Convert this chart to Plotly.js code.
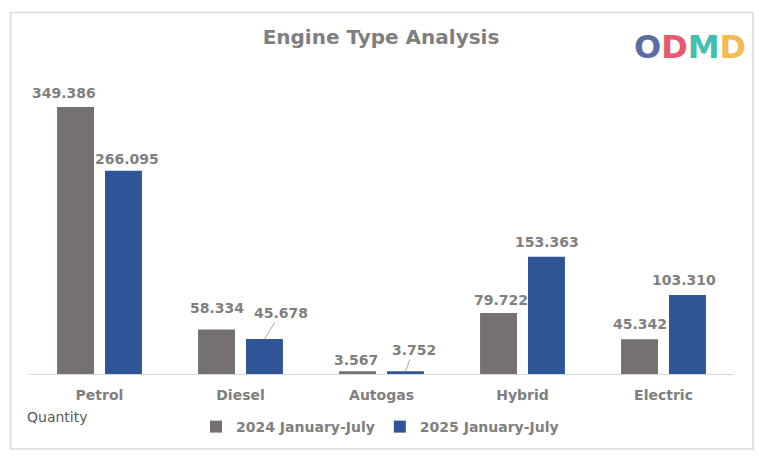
<!DOCTYPE html>
<html>
<head>
<meta charset="utf-8">
<script src="https://cdn.plot.ly/plotly-3.0.1.min.js"></script>
<style>html,body{margin:0;padding:0;background:#fff;}#chart{width:759px;height:460px;}</style>
</head>
<body>
<div id="chart"></div>
<script>
// ---- data ----
var categories = ["Petrol", "Diesel", "Autogas", "Hybrid", "Electric"];
var series2024 = [349.386, 58.334, 3.567, 79.722, 45.342];
var series2025 = [266.095, 45.678, 3.752, 153.363, 103.310];
var seriesNames = ["2024 January-July", "2025 January-July"];
var chartTitle = "Engine Type Analysis";
var axisNote = "Quantity";

// ---- style / placement (not data) ----
var colors = ["#767171", "#2F5597"];
var FONT = "DejaVu Sans, Lato, sans-serif";
var GRAY = "#7f7f7f";
var L = 29, R = 25, T = 99, B = 86, W = 759, H = 460;
var pw = W - L - R, ph = H - T - B;
function px2x(p){ return (p - L) / pw; }
function py2y(p){ return (H - B - p) / ph; }
var slotShift = 24;
// per-label pixel nudges [dx, dy] and leader lines
var nudge2024 = [[-12,14],[0,21],[-2,11],[2,13],[0,15]];
var nudge2025 = [[3,12],[null,null],[null,null],[0,15],[-4,15]];
var leader2025 = [null,[16,-26],[8,-21],null,null];

function fmt(v){ return v.toFixed(3); }

var traces = [
  {type:"bar", name:seriesNames[0], x:categories, y:series2024, marker:{color:colors[0]}, hoverinfo:"none"},
  {type:"bar", name:seriesNames[1], x:categories, y:series2025, marker:{color:colors[1]}, hoverinfo:"none"}
];

var annotations = [];
categories.forEach(function(c, i){
  var n = nudge2024[i];
  annotations.push({x:c, y:series2024[i], xref:"x", yref:"y", text:fmt(series2024[i]),
    showarrow:false, xshift:-slotShift + n[0], yshift:n[1], yanchor:"middle",
    font:{family:FONT, size:14, color:GRAY, weight:"bold"}});
  if (leader2025[i]) {
    annotations.push({x:c, y:series2025[i], xref:"x", yref:"y", text:fmt(series2025[i]),
      showarrow:true, arrowhead:0, arrowwidth:1, arrowcolor:"#a6a6a6", standoff:0,
      ax:leader2025[i][0], ay:leader2025[i][1], xshift:slotShift, yshift:0,
      font:{family:FONT, size:14, color:GRAY, weight:"bold"}});
  } else {
    var m = nudge2025[i];
    annotations.push({x:c, y:series2025[i], xref:"x", yref:"y", text:fmt(series2025[i]),
      showarrow:false, xshift:slotShift + m[0], yshift:m[1], yanchor:"middle",
      font:{family:FONT, size:14, color:GRAY, weight:"bold"}});
  }
});

annotations.push({xref:"paper", yref:"paper", x:px2x(25), y:py2y(417), xanchor:"left", yanchor:"middle",
  text:axisNote, showarrow:false, font:{family:FONT, size:14, color:"#595959"}});

// logo (single text with coloured letters)
var logoLetters = [["O","#4a5d9b"],["D","#e8475c"],["M","#2fb8a8"],["D","#f5b340"]];
var logoText = logoLetters.map(function(l){ return '<span style="color:' + l[1] + '">' + l[0] + '</span>'; }).join("");
annotations.push({xref:"paper", yref:"paper", x:px2x(690), y:py2y(47), xanchor:"center", yanchor:"middle",
  text:logoText, showarrow:false, opacity:0.9, font:{family:FONT, size:32, color:"#4a5d9b", weight:"bold"}});

var layout = {
  width:W, height:H,
  margin:{l:L, r:R, t:T, b:B},
  paper_bgcolor:"#fff", plot_bgcolor:"#fff",
  barmode:"group", bargap:0.32, bargroupgap:0.23,
  title:{text:chartTitle, x:0.502, xanchor:"center", y:1-37/H, yanchor:"middle", yref:"container",
    font:{family:FONT, size:20, color:GRAY, weight:"bold"}},
  xaxis:{showline:true, linecolor:"#d9d9d9", linewidth:1, ticks:"", showgrid:false,
    tickfont:{family:FONT, size:14, color:GRAY, weight:"bold"}, ticklabelstandoff:8, fixedrange:true},
  yaxis:{range:[0,360], visible:false, showgrid:false, zeroline:false, fixedrange:true},
  showlegend:true,
  legend:{orientation:"h", x:px2x(380), xanchor:"center", y:py2y(427), yanchor:"middle",
    font:{family:FONT, size:14, color:GRAY, weight:"bold"}, itemwidth:30, tracegroupgap:0,
    bgcolor:"rgba(0,0,0,0)"},
  annotations:annotations,
  shapes:[{type:"rect", xref:"paper", yref:"paper", x0:px2x(10.5), x1:px2x(753), y0:py2y(449), y1:py2y(12.5),
    line:{color:"#d9d9d9", width:1.5}, fillcolor:"rgba(0,0,0,0)", layer:"below"}]
};

Plotly.newPlot("chart", traces, layout, {displayModeBar:false, staticPlot:true});
</script>
</body>
</html>
